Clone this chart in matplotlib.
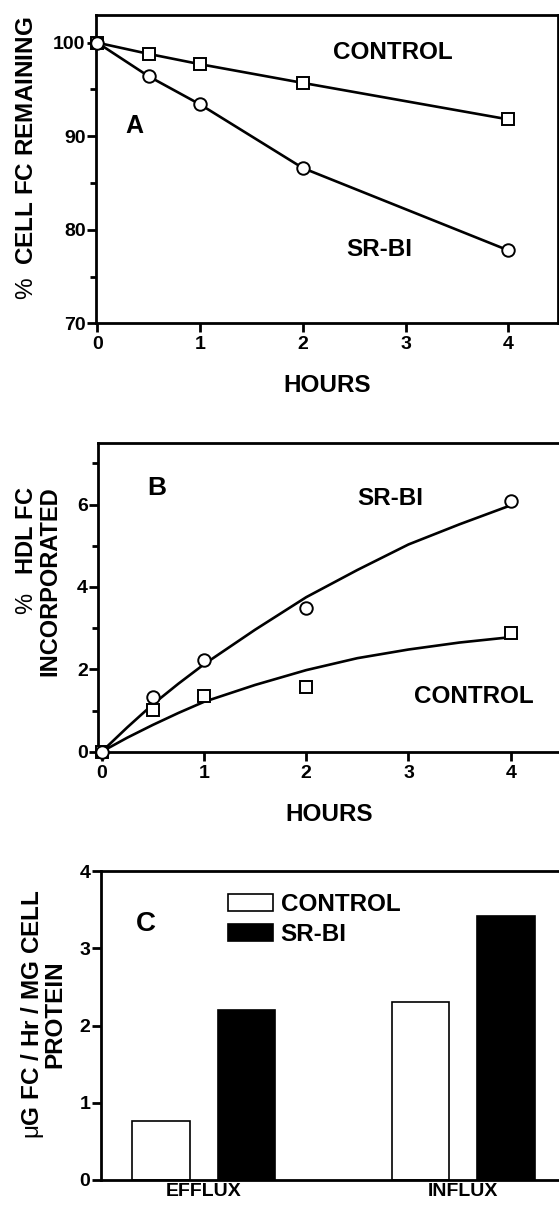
import matplotlib
matplotlib.use("Agg")
import matplotlib.pyplot as plt
from matplotlib.ticker import MultipleLocator

plt.rcParams['font.family'] = ['Liberation Sans', 'DejaVu Sans']
plt.rcParams['font.weight'] = 'bold'
plt.rcParams['axes.labelweight'] = 'bold'
plt.rcParams['mathtext.fontset'] = 'custom'
plt.rcParams['mathtext.rm'] = 'Liberation Sans:weight=normal'
plt.rcParams['mathtext.it'] = 'Liberation Sans:italic:weight=normal'
plt.rcParams['mathtext.bf'] = 'Liberation Sans:weight=bold'

# panel A - % cell FC remaining
hours = [0, 0.5, 1, 2, 4]
a_control = [100, 98.8, 97.7, 95.7, 91.8]
a_srbi = [100, 96.4, 93.4, 86.6, 77.8]

# panel B - % HDL FC incorporated (points + fitted curves)
b_control = [0, 1.01, 1.35, 1.56, 2.87]
b_srbi = [0, 1.32, 2.23, 3.48, 6.09]
fit_hours = [0, 0.25, 0.5, 0.75, 1, 1.5, 2, 2.5, 3, 3.5, 4]
fit_control = [0, 0.34, 0.65, 0.94, 1.21, 1.62, 1.98, 2.27, 2.48, 2.65, 2.78]
fit_srbi = [0, 0.59, 1.15, 1.65, 2.12, 2.96, 3.75, 4.41, 5.03, 5.52, 5.98]

# panel C - flux rates
groups = ['EFFLUX', 'INFLUX']
c_control = [0.77, 2.30]
c_srbi = [2.20, 3.42]

W, H = 559, 1207
fig = plt.figure(figsize=(W / 100, H / 100), dpi=100)

def box(l, t, r, b):
    return [l / W, 1 - b / H, (r - l) / W, (b - t) / H]

axA = fig.add_axes(box(96, 15, 558.3, 323.3))
axB = fig.add_axes(box(98.3, 442.7, 559.8, 751.7))
axC = fig.add_axes(box(100.7, 871, 559.8, 1180))

for ax in (axA, axB, axC):
    for s in ax.spines.values():
        s.set_linewidth(2)
    ax.tick_params(which='both', direction='out', width=2, labelsize=14)
    ax.tick_params(axis='y', which='major', length=6.5, pad=1)
    ax.tick_params(axis='y', which='minor', length=4.5)
    ax.tick_params(axis='x', which='major', length=6.5, pad=3)

mk = dict(mfc='white', mec='black', mew=1.4, ms=9, clip_on=False)

# ---- A
axA.plot(hours, a_control, color='black', lw=1.9, marker='s', zorder=3, **mk)
axA.plot(hours, a_srbi, color='black', lw=1.9, marker='o', zorder=3, **mk)
axA.set_xlim(-0.013, 4.487)
axA.set_ylim(70, 102.96)
axA.set_xticks([0, 1, 2, 3, 4])
axA.set_yticks([70, 80, 90, 100])
axA.yaxis.set_minor_locator(MultipleLocator(5))
axA.set_xlabel('HOURS', fontsize=17.5, labelpad=15)
axA.text(0.36, 91.1, 'A', fontsize=18, ha='center', va='center')
axA.text(2.88, 98.9, 'CONTROL', fontsize=17.5, ha='center', va='center')
axA.text(2.74, 77.9, 'SR-BI', fontsize=17.5, ha='center', va='center')

# ---- B
axB.plot(fit_hours, fit_control, color='black', lw=1.9, zorder=2)
axB.plot(fit_hours, fit_srbi, color='black', lw=1.9, zorder=2)
axB.plot(hours, b_control, ls='none', marker='s', zorder=3, **mk)
axB.plot(hours, b_srbi, ls='none', marker='o', zorder=3, **mk)
axB.set_xlim(-0.033, 4.48)
axB.set_ylim(0, 7.5)
axB.set_xticks([0, 1, 2, 3, 4])
axB.set_yticks([0, 2, 4, 6])
axB.yaxis.set_minor_locator(MultipleLocator(1))
axB.set_xlabel('HOURS', fontsize=17.5, labelpad=15)
axB.text(0.54, 6.39, 'B', fontsize=19, ha='center', va='center')
axB.text(2.82, 6.15, 'SR-BI', fontsize=17.5, ha='center', va='center')
axB.text(3.64, 1.33, 'CONTROL', fontsize=17.5, ha='center', va='center')

# ---- C
xpos = list(range(len(groups)))
off = 0.165
bw = 0.221
axC.bar([x - off for x in xpos], c_control, width=bw, color='white',
        edgecolor='black', linewidth=1.2, label='CONTROL')
axC.bar([x + off for x in xpos], c_srbi, width=bw, color='black',
        edgecolor='black', linewidth=1.2, label='SR-BI')
axC.set_xlim(-0.397, 1.372)
axC.set_ylim(0, 4)
axC.set_yticks([0, 1, 2, 3, 4])
axC.set_xticks(xpos)
axC.set_xticklabels(groups, fontsize=14)
axC.tick_params(axis='x', length=0, pad=2)
axC.text(-0.222, 3.31, 'C', fontsize=20, ha='center', va='center')
axC.legend(loc='upper left', bbox_to_anchor=(0.278, 0.93), frameon=False,
           fontsize=17.5, handlelength=1.85, handleheight=0.7,
           handletextpad=0.3, labelspacing=0.3, borderpad=0, borderaxespad=0)

# y axis labels (the % and mu are in a plain face in the original)
def px(x, y):
    return x / W, 1 - y / H

fig.text(*px(26.7, 158.3), '$\\mathrm{\\%}$  CELL FC REMAINING', rotation=90,
         ha='center', va='center', fontsize=17.5)
fig.text(*px(38.3, 580.8), '$\\mathrm{\\%}$   HDL FC\nINCORPORATED', rotation=90,
         ha='center', va='center', fontsize=17, multialignment='right',
         linespacing=1.0)
fig.text(*px(42.7, 1014), '$\\mathrm{\\mu}$G FC / Hr / MG CELL\nPROTEIN',
         rotation=90, ha='center', va='center', fontsize=17.5,
         multialignment='center', linespacing=0.9)

fig.savefig('out.png', dpi=100)
